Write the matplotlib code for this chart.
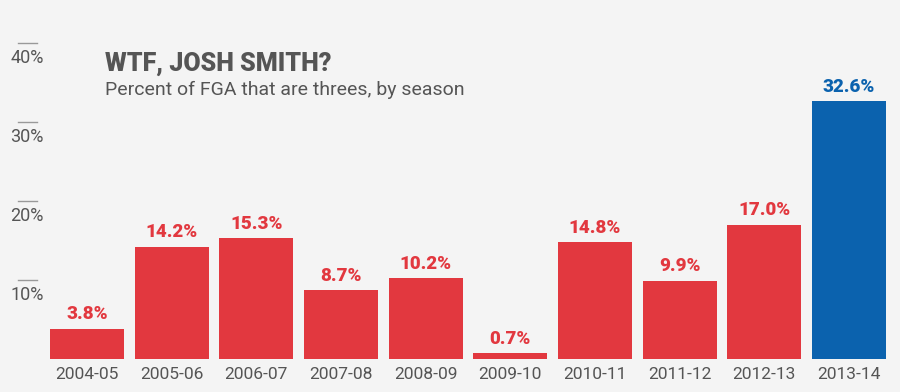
import matplotlib
matplotlib.use("Agg")
import matplotlib.pyplot as plt

seasons = ["2004-05", "2005-06", "2006-07", "2007-08", "2008-09",
           "2009-10", "2010-11", "2011-12", "2012-13", "2013-14"]
pct_threes = [3.8, 14.2, 15.3, 8.7, 10.2, 0.7, 14.8, 9.9, 17.0, 32.6]
y_ticks = [10, 20, 30, 40]

RED = "#e2383f"
BLUE = "#0b62ae"
GRAY = "#555555"
BG = "#f4f4f4"

plt.rcParams["font.family"] = ["Roboto", "DejaVu Sans"]

fig = plt.figure(figsize=(9, 3.92), dpi=100, facecolor=BG)
ax = fig.add_axes([0, 0, 1, 1])
ax.set_facecolor(BG)

# pixel -> data mapping: bar centres 87px + 84.67px pitch, baseline at 359px
ax.set_xlim(-87 / 84.67, (900 - 87) / 84.67)
ax.set_ylim(-(392 - 359) / 7.9, 359 / 7.9)
ax.axis("off")

colors = [RED] * (len(seasons) - 1) + [BLUE]
x = range(len(seasons))
ax.bar(x, pct_threes, width=0.874, color=colors, linewidth=0)

for i, v in enumerate(pct_threes):
    ax.annotate(f"{v:.1f}%", (i, v), xytext=(0, 4), textcoords="offset points",
                ha="center", va="bottom", fontsize=13.5, fontweight="black",
                color=colors[i])
    ax.annotate(seasons[i], (i, 0), xytext=(0, -6), textcoords="offset points",
                ha="center", va="top", fontsize=12.5, color=GRAY)

# y ticks: short line with label beneath
x0 = (18 - 87) / 84.67
x1 = (37 - 87) / 84.67
xc = (27 - 87) / 84.67
for t in y_ticks:
    ax.plot([x0, x1], [t, t], color="#999999", lw=1)
    ax.annotate(f"{t}%", (xc, t), xytext=(0, -4), textcoords="offset points",
                ha="center", va="top", fontsize=13, color=GRAY)

fig.text(105 / 900, 1 - 64 / 392, "WTF, JOSH SMITH?", fontsize=18,
         fontweight="black", color=GRAY, va="center", ha="left")
fig.text(105 / 900, 1 - 90 / 392, "Percent of FGA that are threes, by season",
         fontsize=14, color=GRAY, va="center", ha="left")

fig.savefig("out.png", dpi=100, facecolor=BG)
